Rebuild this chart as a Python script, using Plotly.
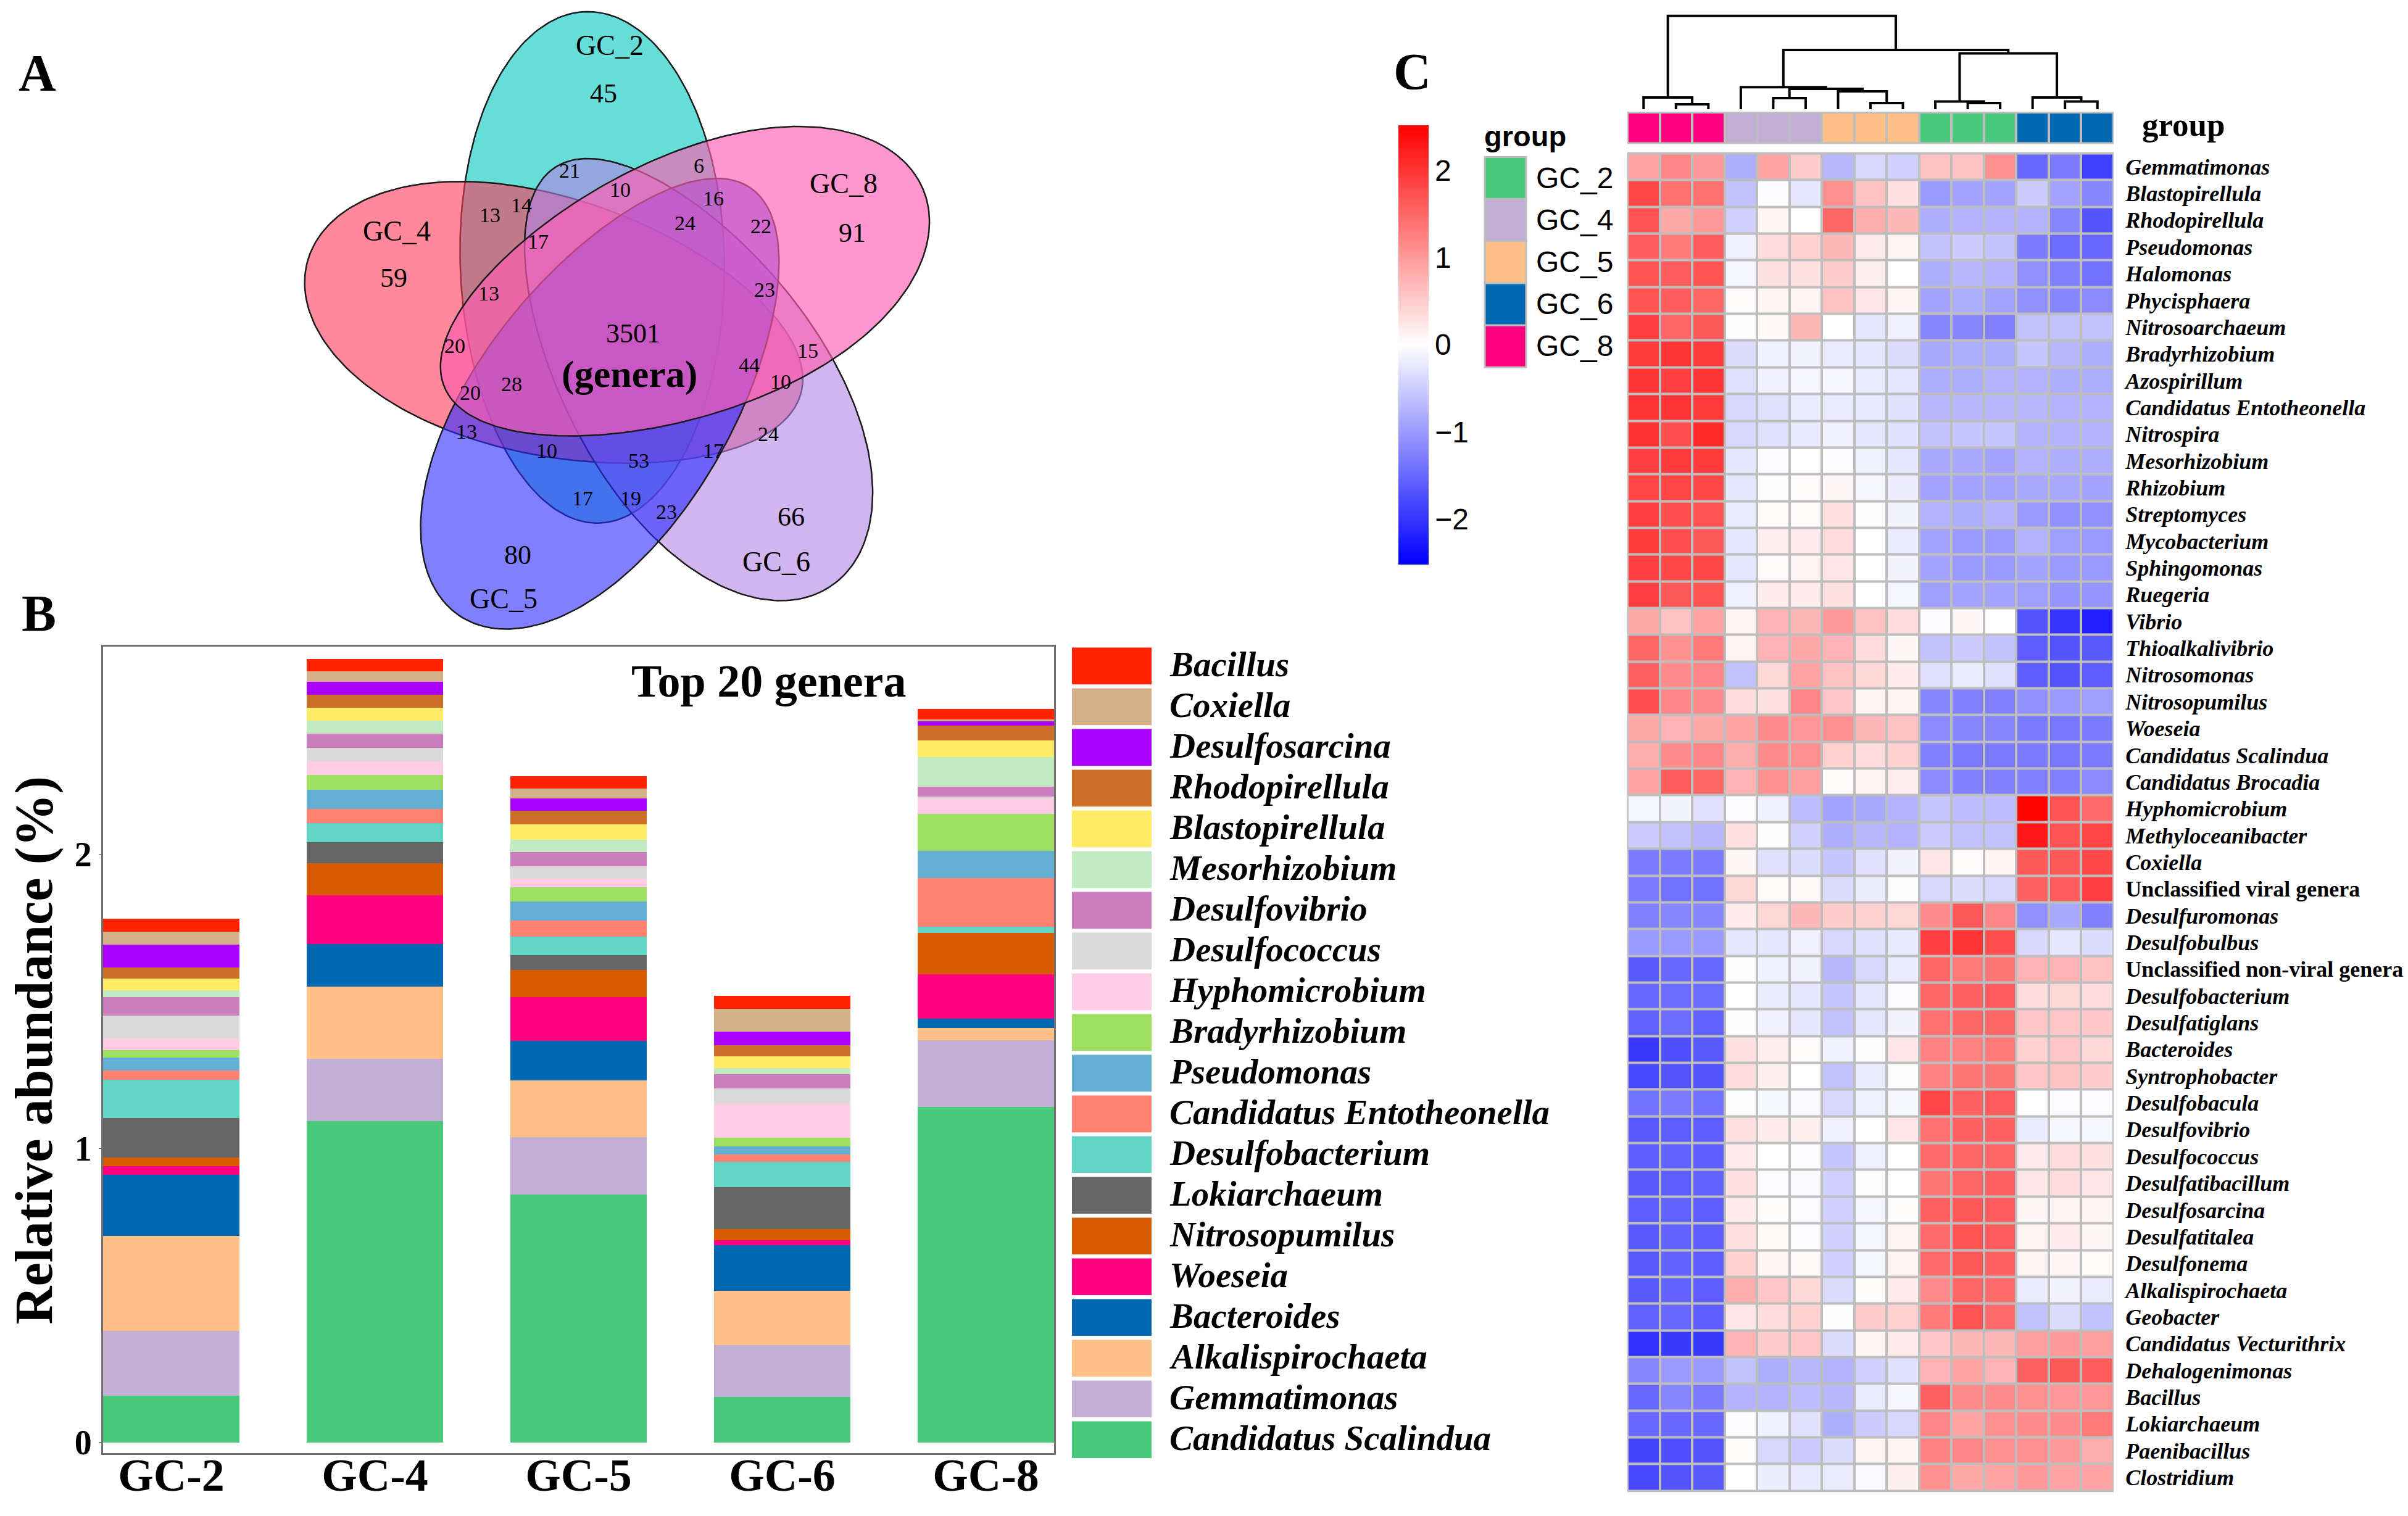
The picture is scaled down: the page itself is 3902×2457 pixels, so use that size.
import numpy as np
import plotly.graph_objects as go

W, H = 3902, 2457
SERIF = "Liberation Serif"
SANS = "Liberation Sans"

# ---------- Panel B data ----------
SAMPLES = ["GC-2", "GC-4", "GC-5", "GC-6", "GC-8"]
GENERA = ["Candidatus Scalindua", "Gemmatimonas", "Alkalispirochaeta", "Bacteroides", "Woeseia",
          "Nitrosopumilus", "Lokiarchaeum", "Desulfobacterium", "Candidatus Entotheonella", "Pseudomonas",
          "Bradyrhizobium", "Hyphomicrobium", "Desulfococcus", "Desulfovibrio", "Mesorhizobium",
          "Blastopirellula", "Rhodopirellula", "Desulfosarcina", "Coxiella", "Bacillus"]
GENUS_COLORS = ["#4BC97A", "#C3AED6", "#FEC086", "#0067B3", "#FF0080", "#D95B00", "#666666", "#61D4C6",
                "#FF8172", "#63B0D4", "#A0E060", "#FFCCE6", "#D9D9D9", "#CC7DBD", "#C2EAC2", "#FFEB66",
                "#CC7029", "#AA00FF", "#D4B188", "#FF2200"]
GC2 = [.159, .221, .323, .207, .029, .029, .135, .130, .031, .044, .027, .039, .077, .064, .023, .039, .039, .077, .043, .044]
GC4 = [1.093, .211, .246, .145, .166, .108, .072, .066, .048, .064, .050, .046, .046, .050, .044, .043, .044, .044, .037, .041]
GC5 = [.843, .195, .193, .135, .149, .091, .052, .062, .054, .066, .048, .029, .043, .048, .041, .052, .048, .041, .033, .043]
GC6 = [.155, .176, .184, .155, .017, .039, .143, .085, .025, .027, .031, .114, .052, .050, .021, .039, .037, .046, .079, .044]
GC8 = [1.141, .226, .043, .031, .151, .141, 0, .021, .166, .091, .126, .054, .006, .033, .101, .056, .050, .015, .006, .037]

# ---------- Panel A data ----------
VENN_LABELS = [("GC_2", 968, 112, 46), ("45", 958, 230, 44), ("21", 905, 420, 34), ("6", 1110, 408, 34),
               ("10", 985, 466, 34), ("14", 828, 505, 34), ("13", 778, 528, 34), ("16", 1133, 488, 34),
               ("24", 1088, 548, 34), ("22", 1208, 556, 34), ("17", 855, 594, 34), ("GC_8", 1340, 452, 46),
               ("91", 1353, 573, 44), ("GC_4", 630, 568, 46), ("59", 625, 683, 44), ("13", 776, 722, 34),
               ("23", 1214, 712, 34), ("3501", 1005, 820, 44), ("20", 722, 850, 34), ("28", 812, 945, 34),
               ("44", 1190, 898, 34), ("15", 1283, 862, 34), ("20", 747, 965, 34), ("10", 1240, 938, 34),
               ("13", 741, 1062, 34), ("24", 1220, 1068, 34), ("10", 868, 1108, 34), ("53", 1014, 1133, 34),
               ("17", 1133, 1108, 34), ("17", 925, 1225, 34), ("19", 1002, 1225, 34), ("23", 1058, 1258, 34),
               ("66", 1256, 1270, 44), ("80", 822, 1365, 44), ("GC_6", 1233, 1382, 46), ("GC_5", 800, 1472, 46)]

# ---------- Panel C data ----------
GROUPS = ["GC_2", "GC_4", "GC_5", "GC_6", "GC_8"]
GROUP_COLORS = ["#4BC97A", "#C3AED6", "#FEC086", "#0067B3", "#FF0080"]
COLUMN_GROUPS = [4, 4, 4, 1, 1, 1, 2, 2, 2, 0, 0, 0, 3, 3, 3]
TAXA = ["Gemmatimonas", "Blastopirellula", "Rhodopirellula", "Pseudomonas", "Halomonas", "Phycisphaera",
        "Nitrosoarchaeum", "Bradyrhizobium", "Azospirillum", "Candidatus Entotheonella", "Nitrospira",
        "Mesorhizobium", "Rhizobium", "Streptomyces", "Mycobacterium", "Sphingomonas", "Ruegeria", "Vibrio",
        "Thioalkalivibrio", "Nitrosomonas", "Nitrosopumilus", "Woeseia", "Candidatus Scalindua",
        "Candidatus Brocadia", "Hyphomicrobium", "Methyloceanibacter", "Coxiella", "Unclassified viral genera",
        "Desulfuromonas", "Desulfobulbus", "Unclassified non-viral genera", "Desulfobacterium", "Desulfatiglans",
        "Bacteroides", "Syntrophobacter", "Desulfobacula", "Desulfovibrio", "Desulfococcus", "Desulfatibacillum",
        "Desulfosarcina", "Desulfatitalea", "Desulfonema", "Alkalispirochaeta", "Geobacter",
        "Candidatus Vecturithrix", "Dehalogenimonas", "Bacillus", "Lokiarchaeum", "Paenibacillus", "Clostridium"]
HEAT = [
 [.9,1.2,1.0,-.8,.9,.5,-.7,-.4,-.45,.6,.6,1.1,-1.5,-1.3,-1.9],
 [1.8,1.4,1.4,-.6,-.03,-.25,1.1,.6,.3,-1.0,-.9,-.9,-.5,-.9,-1.2],
 [1.7,.85,1.0,-.45,.1,0,1.5,.8,.7,-.8,-.75,-.75,-.75,-1.2,-1.7],
 [1.6,1.3,1.6,-.15,.35,.45,.7,.2,.1,-.6,-.5,-.6,-1.3,-1.45,-1.5],
 [1.7,1.6,1.7,-.1,.3,.3,.5,.15,0,-.8,-.7,-.75,-1.1,-1.25,-1.4],
 [1.7,1.6,1.5,.05,.1,.1,.6,.25,.1,-.9,-.8,-.9,-1.1,-1.2,-1.15],
 [1.9,1.5,1.65,.02,.07,.7,0,-.25,-.15,-1.2,-1.2,-1.25,-.6,-.6,-.6],
 [1.95,2.0,1.95,-.35,-.15,-.12,-.2,-.25,-.35,-.85,-.8,-.8,-.55,-.7,-.8],
 [2.0,1.9,2.0,-.3,-.15,-.1,-.1,-.2,-.25,-.8,-.8,-.75,-.75,-.8,-.8],
 [2.0,2.0,1.95,-.4,-.3,-.2,-.2,-.22,-.3,-.7,-.7,-.7,-.7,-.75,-.75],
 [2.05,1.75,2.1,-.4,-.3,-.22,-.15,-.25,-.3,-.6,-.55,-.55,-.75,-.75,-.75],
 [1.9,1.95,1.95,-.25,-.05,0,-.03,-.15,-.25,-.85,-.85,-.9,-.75,-.8,-.8],
 [1.85,1.85,1.8,-.25,-.02,.04,.08,-.08,-.18,-.9,-.9,-.9,-.85,-.85,-.9],
 [1.9,1.75,1.7,-.2,.05,.05,.3,-.02,-.12,-.75,-.8,-.75,-1.0,-1.1,-1.1],
 [1.95,1.75,1.65,-.25,.18,.2,.35,0,-.2,-.9,-1.0,-1.0,-.75,-.95,-1.0],
 [1.9,1.8,1.8,-.25,.05,.12,.25,0,-.12,-.9,-1,-1,-.9,-1,-1],
 [1.9,1.65,1.7,-.15,.2,.2,.3,0,-.1,-.95,-.9,-.9,-.95,-1.05,-1.05],
 [.85,.6,.9,.12,.75,.7,1.0,.6,.35,-.05,.08,0,-1.7,-2.0,-2.2],
 [1.5,1.1,1.3,.12,.75,.85,.75,.35,.08,-.6,-.5,-.6,-1.6,-1.7,-1.65],
 [1.55,1.15,1.2,-.6,.4,.9,.6,.4,.2,-.3,-.2,-.3,-1.6,-1.7,-1.6],
 [1.75,1.2,1.15,.35,.3,1.2,.55,.1,.1,-1.2,-1.25,-1.25,-1.1,-1.0,-.95],
 [.85,.75,.85,.9,1.15,1.05,1.1,.7,.6,-1.15,-1.2,-1.2,-1.3,-1.35,-1.3],
 [.8,1.15,1.2,.8,1.15,1.1,.45,.35,.45,-1.25,-1.3,-1.3,-1.3,-1.35,-1.3],
 [.9,1.6,1.5,.75,1.1,.95,.05,.1,.18,-1.15,-1.25,-1.25,-1.25,-1.25,-1.15],
 [-.1,-.12,-.3,-.03,-.15,-.65,-.9,-.85,-.75,-.55,-.65,-.65,2.5,1.7,1.45],
 [-.5,-.6,-.7,.3,.02,-.45,-.8,-.7,-.75,-.5,-.6,-.6,2.3,1.7,1.85],
 [-1.3,-1.3,-1.3,.08,-.3,-.35,-.55,-.3,-.12,.25,.05,.1,1.65,1.65,1.8],
 [-1.3,-1.4,-1.4,.4,.05,.06,-.35,-.18,-.02,-.4,-.35,-.4,1.55,1.6,1.9],
 [-1.25,-1.2,-1.2,.2,.4,.7,.5,.45,.4,1.15,1.65,1.2,-1.1,-.85,-1.25],
 [-1.0,-1.0,-1.0,-.25,-.25,-.15,-.4,-.3,-.22,1.9,2.0,1.75,-.4,-.25,-.35],
 [-1.65,-1.5,-1.5,.02,-.15,-.12,-.7,-.4,-.2,1.5,1.3,1.35,.75,.75,.6],
 [-1.5,-1.45,-1.45,0,-.2,-.25,-.55,-.25,-.05,1.5,1.55,1.6,.35,.4,.35],
 [-1.55,-1.45,-1.55,.02,-.15,-.25,-.6,-.25,-.12,1.4,1.5,1.5,.55,.55,.55],
 [-1.95,-1.75,-1.65,.3,.18,.05,-.15,.02,.25,1.25,1.25,1.3,.45,.55,.4],
 [-1.8,-1.7,-1.7,.35,.15,0,-.6,-.2,-.02,1.25,1.35,1.35,.55,.6,.5],
 [-1.4,-1.3,-1.4,.02,-.08,-.06,-.4,-.15,-.08,1.85,1.55,1.6,0,-.04,-.03],
 [-1.65,-1.6,-1.6,.3,.2,.15,-.15,0,.25,1.4,1.55,1.55,-.2,-.08,-.08],
 [-1.6,-1.55,-1.6,.2,0,-.03,-.55,-.15,0,1.45,1.5,1.5,.2,.35,.3],
 [-1.65,-1.6,-1.55,.3,-.04,-.06,-.45,-.02,0,1.35,1.5,1.55,.25,.35,.25],
 [-1.6,-1.55,-1.6,.2,.03,-.04,-.45,-.1,.03,1.55,1.65,1.6,.08,.12,.1],
 [-1.65,-1.55,-1.6,.32,.06,-.03,-.45,-.1,.12,1.45,1.7,1.6,.12,.2,.08],
 [-1.65,-1.55,-1.6,.45,.1,.06,-.45,-.08,.12,1.45,1.65,1.55,.12,.08,.05],
 [-1.65,-1.55,-1.6,.8,.55,.4,-.35,.03,.2,1.15,1.5,1.45,-.2,-.12,-.2],
 [-1.55,-1.5,-1.6,.25,.35,.45,.02,.5,.45,1.3,1.7,1.45,-.6,-.35,-.6],
 [-2.05,-1.95,-1.95,.75,.5,.55,-.35,.1,.22,.55,.7,.7,.95,1.0,.95],
 [-1.2,-1.0,-1.0,-.6,-.8,-.7,-.75,-.45,-.3,.75,.9,.75,1.55,1.65,1.6],
 [-1.5,-1.2,-1.3,-.75,-.75,-.65,-.7,-.2,-.1,1.55,1.15,1.15,1.1,1.05,1.05],
 [-1.5,-1.5,-1.5,-.03,-.15,-.3,-.8,-.5,-.4,1.2,.9,1.1,1.15,1.15,1.3],
 [-1.85,-1.75,-1.7,.03,-.4,-.5,-.35,.12,.1,1.25,1.2,1.1,1.1,1.0,.8],
 [-1.8,-1.7,-1.65,.01,-.18,-.22,-.2,-.06,.15,1.1,.85,.9,1.0,.9,.9],
]
# Dendrogram merges: (left node, right node, height); leaves are 0..14, new nodes follow
MERGES = [(1, 2, 8), (0, 15, 19), (4, 5, 18), (7, 8, 10), (6, 18, 29), (17, 19, 33), (3, 20, 36),
          (10, 11, 10), (9, 22, 12.5), (13, 14, 12.5), (12, 24, 19), (23, 25, 91), (21, 26, 96.5), (16, 27, 152)]


def dom_x(a, b):
    return [a / W, b / W]


def dom_y(top, bottom):
    return [1 - bottom / H, 1 - top / H]


fig = go.Figure()

# ---------- full-page pixel axes used for panel A, legends and page-level text ----------
fig.update_layout(
    xaxis=dict(domain=[0, 1], range=[0, W], visible=False, fixedrange=True),
    yaxis=dict(domain=[0, 1], range=[H, 0], visible=False, fixedrange=True),
)
# Drawing order matters: the overlap colours of the reference come from this stacking.
# Egg outlines: (name, cx, cy, half length, half width, direction of outer tip in degrees, egg factor, fill)
PETALS = [("GC_2", 960, 436, 417, 214, 268.6, 0.03, "rgba(0,198,188,0.6)"),
          ("GC_4", 898, 534, 414, 210, 195, 0.10, "rgba(255,57,88,0.6)"),
          ("GC_6", 1122, 615, 408, 207, 57, 0.12, "rgba(177,132,227,0.6)"),
          ("GC_5", 980, 655, 421, 205, 124, 0.10, "rgba(43,43,255,0.6)"),
          ("GC_8", 1108, 470, 420, 210, -22.6, 0.12, "rgba(255,94,178,0.65)")]
t = np.linspace(0, 2 * np.pi, 241)
for name, cx, cy, a, b, ang, egg, col in PETALS:
    th = np.deg2rad(ang)
    ex, ey = a * np.cos(t), b * np.sin(t) * (1 + egg * np.cos(t))
    fig.add_trace(go.Scatter(x=cx + ex * np.cos(th) - ey * np.sin(th), y=cy + ex * np.sin(th) + ey * np.cos(th),
                             mode="lines", fill="toself", fillcolor=col, line=dict(color="#1a1a1a", width=2.5),
                             name=name, showlegend=False, hoverinfo="skip", xaxis="x", yaxis="y"))

ann = []


def page_text(x, y, text, size, font=SERIF, anchor="center", color="black", angle=0):
    ann.append(dict(x=x, y=y, xref="x", yref="y", text=text, showarrow=False, xanchor=anchor, yanchor="middle",
                    textangle=angle, font=dict(family=font, size=size, color=color)))


for txt, zx, zy, size in VENN_LABELS:
    page_text(zx / 0.98, zy / 1.508, txt, size)
page_text(1020, 610, "<b>(genera)</b>", 62)
page_text(60, 119, "<b>A</b>", 84)
page_text(63, 1001, "<b>B</b>", 84)
page_text(2288, 117, "<b>C</b>", 84)

# ---------- Panel B ----------
for i, g in enumerate(GENERA):
    vals = [GC2[i], GC4[i], GC5[i], GC6[i], GC8[i]]
    fig.add_trace(go.Bar(x=SAMPLES, y=vals, name=g, marker=dict(color=GENUS_COLORS[i], line=dict(width=0)),
                         width=0.667, showlegend=False, xaxis="x2", yaxis="y2"))
fig.update_layout(
    barmode="stack",
    xaxis2=dict(domain=dom_x(167, 1708), anchor="y2", range=[-0.335, 4.335], showline=True, mirror=True,
                linecolor="#707070", linewidth=3, ticks="", showgrid=False, zeroline=False, ticklabelstandoff=-30,
                tickvals=SAMPLES, ticktext=[f"<b>{s}</b>" for s in SAMPLES],
                tickfont=dict(family=SERIF, size=74, color="black")),
    yaxis2=dict(domain=dom_y(1054, 2369), anchor="x2", range=[-0.035, 2.707], tickvals=[0, 1, 2],
                ticktext=["<b>0</b>", "<b>1</b>", "<b>2</b>"], showline=True,
                mirror=True, linecolor="#707070", linewidth=3, ticks="outside", ticklen=4, tickcolor="#555",
                showgrid=False, zeroline=False, tickfont=dict(family=SERIF, size=56, color="black")),
)
page_text(55, 1713, "<b>Relative abundance (%)</b>", 86, angle=-90)
page_text(1245, 1111, "<b>Top 20 genera</b>", 74)

# Legend of panel B (top row = last series)
shapes = []
for k, i in enumerate(range(len(GENERA) - 1, -1, -1)):
    top = 1056 + 66.4 * k
    shapes.append(dict(type="rect", xref="x", yref="y", x0=1737, x1=1866, y0=top, y1=top + 60,
                       fillcolor=GENUS_COLORS[i], line=dict(width=0)))
    page_text(1893, top + 27, f"<b><i>{GENERA[i]}</i></b>", 57, anchor="left")

# ---------- Panel C: dendrogram ----------
pos = {i: (float(i), 0.0) for i in range(15)}
dx, dy = [], []
for n, (l, r, h) in enumerate(MERGES):
    xl, yl = pos[l]
    xr, yr = pos[r]
    dx += [xl, xl, xr, xr, None]
    dy += [yl, h, h, yr, None]
    pos[15 + n] = ((xl + xr) / 2, h)
fig.add_trace(go.Scatter(x=dx, y=dy, mode="lines", line=dict(color="black", width=4), showlegend=False,
                         hoverinfo="skip", xaxis="x3", yaxis="y3"))
fig.update_layout(
    xaxis3=dict(domain=dom_x(2637, 3425), anchor="y3", range=[-0.5, 14.5], visible=False),
    yaxis3=dict(domain=dom_y(20, 178), anchor="x3", range=[0, 158], visible=False),
)

# Annotation bar
fig.add_trace(go.Heatmap(z=[COLUMN_GROUPS], x=list(range(15)), y=["group"], zmin=-0.5, zmax=4.5,
                         colorscale=[x for k, c in enumerate(GROUP_COLORS) for x in ([k / 5, c], [(k + 1) / 5, c])],
                         showscale=False, xgap=4, ygap=0, hoverinfo="skip", xaxis="x4", yaxis="y4"))
fig.update_layout(
    xaxis4=dict(domain=dom_x(2637, 3425), anchor="y4", range=[-0.5, 14.5], visible=False),
    yaxis4=dict(domain=dom_y(185, 232), anchor="x4", visible=False),
)
shapes.append(dict(type="rect", xref="x", yref="y", x0=2637, x1=3425, y0=182, y1=235, fillcolor="#BEBEBE",
                   line=dict(width=0), layer="below"))
page_text(3469, 203, "<b>group</b>", 53, anchor="left")

# Main heatmap
tick_labels = [f"<b>{n}</b>" if n.startswith("Unclassified") else f"<b><i>{n}</i></b>" for n in TAXA]
fig.add_trace(go.Heatmap(z=HEAT, x=list(range(15)), y=list(range(50)), zmin=-2.52, zmax=2.52,
                         colorscale=[[0, "#0000FF"], [0.5, "#FFFFFF"], [1, "#FF0000"]], xgap=4, ygap=4,
                         hoverinfo="skip", xaxis="x5", yaxis="y5",
                         colorbar=dict(x=2266 / W, xanchor="left", y=1 - 562 / H, yanchor="middle", len=712,
                                       lenmode="pixels", thickness=49, thicknessmode="pixels", xpad=0, ypad=0,
                                       outlinewidth=0, tickvals=[-2, -1, 0, 1, 2], ticks="",
                                       tickfont=dict(family=SANS, size=48, color="black"))))
fig.update_layout(
    xaxis5=dict(domain=dom_x(2637, 3425), anchor="y5", range=[-0.5, 14.5], visible=False),
    yaxis5=dict(domain=dom_y(250, 2431), anchor="x5", range=[49.5, -0.5], side="right", tickvals=list(range(50)),
                ticktext=tick_labels, ticks="outside", ticklen=11, tickcolor="rgba(0,0,0,0)", showline=False,
                showgrid=False, zeroline=False, tickfont=dict(family=SERIF, size=36, color="black")),
)
shapes.append(dict(type="rect", xref="x", yref="y", x0=2637, x1=3425, y0=248, y1=2433, fillcolor="#BEBEBE",
                   line=dict(width=0), layer="below"))

# Group legend
for k, (g, c) in enumerate(zip(GROUPS, GROUP_COLORS)):
    top = 256 + 68.6 * k
    shapes.append(dict(type="rect", xref="x", yref="y", x0=2406, x1=2473, y0=top, y1=top + 68.6, fillcolor=c,
                       line=dict(color="#BEBEBE", width=3)))
    page_text(2487, top + 34, g, 48, font=SANS, anchor="left")
page_text(2471, 222, "<b>group</b>", 47, font=SANS)

fig.update_layout(width=W, height=H, margin=dict(l=0, r=0, t=0, b=0, pad=0), autosize=False,
                  paper_bgcolor="white", plot_bgcolor="rgba(0,0,0,0)", shapes=shapes, annotations=ann,
                  font=dict(family=SERIF, color="black"))
fig.write_html("out.html", config=dict(displayModeBar=False),
               post_script="document.body.style.margin='0';document.documentElement.style.overflow='hidden';")
